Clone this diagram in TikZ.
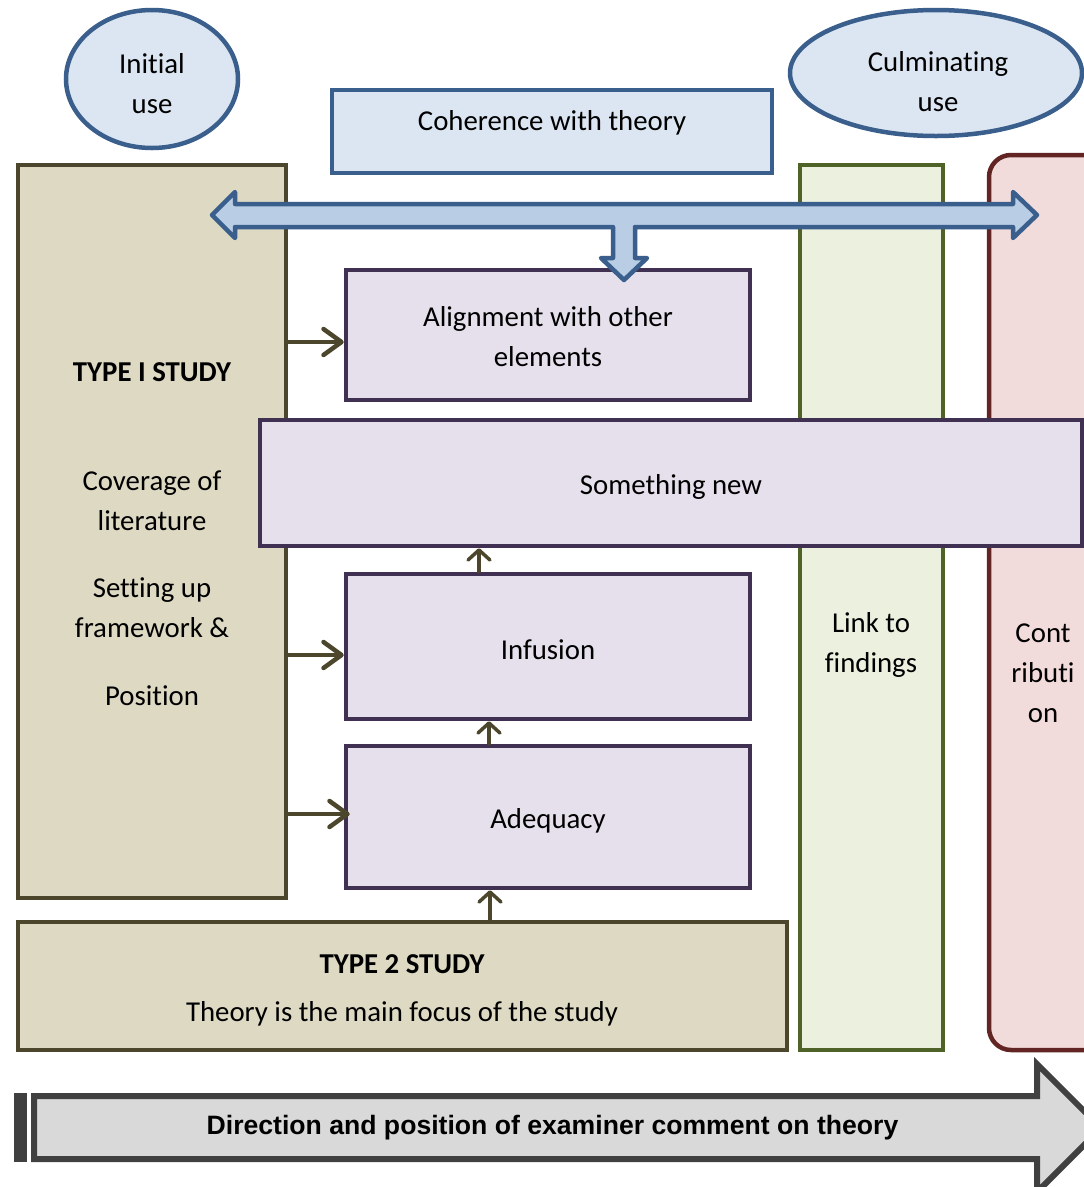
\documentclass[tikz,border=0pt]{standalone}
\usepackage{fontspec}
\setmainfont[Ligatures=NoCommon]{Carlito}
\newfontfamily\arialfont{Liberation Sans}
\usetikzlibrary{arrows.meta,shapes.geometric}
\definecolor{bluefill}{HTML}{DCE6F2}
\definecolor{blueline}{HTML}{3A5F8D}
\definecolor{arrowfill}{HTML}{B9CDE5}
\definecolor{olivefill}{HTML}{DDD9C3}
\definecolor{oliveline}{HTML}{4C472C}
\definecolor{purplefill}{HTML}{E5E0EC}
\definecolor{purpleline}{HTML}{403152}
\definecolor{greenfill}{HTML}{EBF1DE}
\definecolor{greenline}{HTML}{4F6228}
\definecolor{pinkfill}{HTML}{F2DCDB}
\definecolor{pinkline}{HTML}{632523}
\definecolor{grayfill}{HTML}{D9D9D9}
\definecolor{grayline}{HTML}{404040}
\tikzset{
  txt/.style={font=\fontsize{28.8}{40}\selectfont, align=center, inner sep=0pt},
  boldtxt/.style={txt, font=\fontsize{28.8}{40}\selectfont\bfseries},
  ell/.style={ellipse, draw=blueline, fill=bluefill, line width=4.5pt},
  bluebox/.style={rectangle, draw=blueline, fill=bluefill, line width=4.5pt},
  olivebox/.style={rectangle, draw=oliveline, fill=olivefill, line width=4.5pt},
  purplebox/.style={rectangle, draw=purpleline, fill=purplefill, line width=4.5pt},
  greenbox/.style={rectangle, draw=greenline, fill=greenfill, line width=4.5pt},
  pinkbox/.style={rectangle, rounded corners=22pt, draw=pinkline, fill=pinkfill, line width=4.5pt},
  hconn/.style={draw=oliveline, line width=4.5pt, line cap=round,
     -{Straight Barb[length=18pt,width=26pt,line cap=round,line join=round]}},
  vconn/.style={draw=oliveline, line width=3.5pt, line cap=round,
     -{Straight Barb[length=10pt,width=22pt,line cap=round,line join=round]}},
}
\begin{document}
\begin{tikzpicture}[x=1pt,y=-1pt]
\useasboundingbox (0,0) rectangle (1084,1187);
\clip (0,0) rectangle (1084,1187);
\fill[white] (0,0) rectangle (1084,1187);

% tall columns
\node[olivebox, minimum width=268pt, minimum height=733pt] (typeI) at (152,531.5) {};
\node[greenbox, minimum width=143pt, minimum height=885pt] (link) at (871.5,607.5) {};
\node[pinkbox, minimum width=191pt, minimum height=895pt] (contrib) at (1084.5,602.5) {};

% top items
\node[ell, minimum width=172pt, minimum height=138pt] (init) at (152,79) {};
\node[txt] (initT) at (152,84) {Initial\\use};
\node[ell, minimum width=292pt, minimum height=126pt] (culm) at (936,73) {};
\node[txt] (culmT) at (938,82) {Culminating\\use};
\node[bluebox, minimum width=440pt, minimum height=83pt] (coh) at (552,131.5) {};
\node[txt] (cohT) at (552,122.5) {Coherence with theory};

% purple boxes
\node[purplebox, minimum width=404pt, minimum height=130pt] (align) at (548,335) {};
\node[txt] (alignT) at (548,337) {Alignment with other\\elements};
\node[purplebox, minimum width=404pt, minimum height=145pt] (infus) at (548,646.5) {};
\node[txt] (infusT) at (548,649.5) {Infusion};
\node[purplebox, minimum width=404pt, minimum height=142pt] (adeq) at (548,817) {};
\node[txt] (adeqT) at (548,821) {Adequacy};

% type 2
\node[olivebox, minimum width=769pt, minimum height=128pt] (typeII) at (402.5,986) {};
\node[boldtxt] (typeIIT) at (402,964) {TYPE 2 STUDY};
\node[txt] (typeIIS) at (402,1013.5) {Theory is the main focus of the study};

% something new (on top)
\node[purplebox, minimum width=822pt, minimum height=126pt] (new) at (671,483) {};
\node[txt] (newT) at (671,486.5) {Something new};

% column labels
\node[boldtxt] (typeIT) at (152,372.5) {TYPE I STUDY};
\node[txt] (cov) at (152,501) {Coverage of\\literature};
\node[txt] (setup) at (152,608) {Setting up\\framework \&};
\node[txt] (pos) at (152,696) {Position};
\node[txt] (linkT) at (871,644.5) {Link to\\findings};
\node[txt] (contT) at (1043,673) {Cont\\ributi\\on};

% connectors
\coordinate (y1) at (0,342);
\coordinate (y2) at (0,655);
\coordinate (y3) at (0,814);
\draw[hconn] (typeI.east |- y1) -- (align.west |- y1);
\draw[hconn] (typeI.east |- y2) -- (infus.west |- y2);
\draw[hconn] (typeI.east |- y3) -- ([xshift=6pt]adeq.west |- y3);
\coordinate (x1) at (479,0);
\coordinate (x2) at (489,0);
\coordinate (x3) at (490,0);
\draw[vconn] (x1 |- infus.north) -- (x1 |- new.south);
\draw[vconn] (x2 |- adeq.north) -- (x2 |- infus.south);
\draw[vconn] (x3 |- typeII.north) -- (x3 |- adeq.south);

% big double arrow with downward branch
\draw[draw=blueline, fill=arrowfill, line width=4.5pt, line join=round]
  (212,215) -- (235,192) -- (235,204) -- (1013,204) -- (1013,192) -- (1037,215)
  -- (1013,238) -- (1013,227) -- (635,227) -- (635,258) -- (647,258) -- (624,280)
  -- (601,258) -- (613,258) -- (613,227) -- (235,227) -- (235,238) -- cycle;

% bottom direction arrow
\fill[grayline] (14,1093) rectangle (27,1162);
\draw[draw=grayline, fill=grayfill, line width=6pt, line join=miter]
  (34,1096) -- (1037,1096) -- (1037,1064) -- (1101,1128) -- (1037,1192)
  -- (1037,1159) -- (34,1159) -- cycle;
\node[inner sep=0pt, font=\arialfont\bfseries\fontsize{26.6}{30}\selectfont] (dirT) at (552.5,1128)
  {Direction and position of examiner comment on theory};
\end{tikzpicture}
\end{document}
